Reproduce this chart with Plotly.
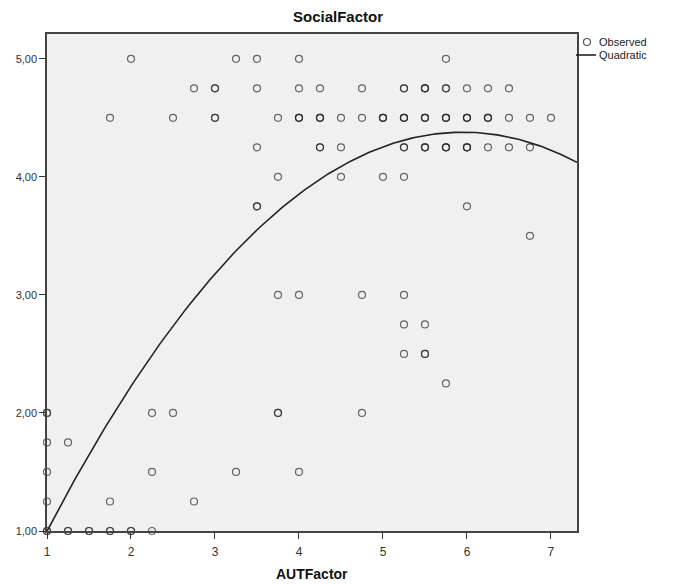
import numpy as np
import plotly.graph_objects as go

# Observed data (AUTFactor, SocialFactor, overlap count)
aut = [2.0, 3.25, 3.5, 4.0, 5.75,
       2.75, 3.0, 3.5, 4.0, 4.25, 4.75, 5.25, 5.5, 5.75, 6.0, 6.25, 6.5,
       1.75, 2.5, 3.0, 3.75, 4.0, 4.25, 4.5, 4.75, 5.0, 5.25, 5.5, 5.75, 6.0, 6.25, 6.5, 6.75, 7.0,
       3.5, 4.25, 4.5, 5.25, 5.5, 5.75, 6.0, 6.25, 6.5, 6.75,
       3.75, 4.5, 5.0, 5.25,
       3.5, 6.0,
       6.75,
       3.75, 4.0, 4.75, 5.25,
       5.25, 5.5,
       5.25, 5.5,
       5.75,
       1.0, 2.25, 2.5, 3.75, 4.75,
       1.0, 1.25,
       1.0, 2.25, 3.25, 4.0,
       1.0, 1.75, 2.75,
       1.0, 1.25, 1.5, 1.75, 2.0, 2.25]
social = [5.0] * 5 + [4.75] * 12 + [4.5] * 17 + [4.25] * 10 + [4.0] * 4 + [3.75] * 2 + [3.5] + \
         [3.0] * 4 + [2.75] * 2 + [2.5] * 2 + [2.25] + [2.0] * 5 + [1.75] * 2 + [1.5] * 4 + \
         [1.25] * 3 + [1.0] * 6
count = [1, 1, 1, 1, 1,
         1, 2, 1, 1, 1, 1, 2, 3, 2, 1, 1, 1,
         1, 1, 2, 1, 3, 3, 1, 1, 3, 3, 3, 3, 3, 3, 1, 1, 1,
         1, 2, 1, 2, 3, 3, 3, 1, 1, 1,
         1, 1, 1, 1,
         2, 1,
         1,
         1, 1, 1, 1,
         1, 1,
         1, 2,
         1,
         2, 1, 1, 2, 1,
         1, 1,
         1, 1, 1, 1,
         1, 1, 1,
         2, 2, 2, 2, 2, 1]

# Quadratic fit coefficients: y = b0 + b1*x + b2*x^2
quad_coef = [-0.506, 1.642, -0.138]

x_range = [1.0, 7.31]
y_range = [1.0, 5.21]
x_ticks = [1, 2, 3, 4, 5, 6, 7]
y_ticks = [1.0, 2.0, 3.0, 4.0, 5.0]
y_tick_text = ["1,00", "2,00", "3,00", "4,00", "5,00"]
legend_names = ["Observed", "Quadratic"]

px_ = np.repeat(aut, count)
py_ = np.repeat(social, count)

xs = np.linspace(x_range[0], x_range[1], 200)
ys = quad_coef[0] + quad_coef[1] * xs + quad_coef[2] * xs ** 2

# plot-area geometry in pixels (for placing legend / titles)
W, H = 676, 584
ML, MR, MT, MB = 47, 99, 34, 53
PW, PH = W - ML - MR, H - MT - MB


def pxx(p):
    return (p - ML) / PW


def pyy(p):
    return (H - MB - p) / PH


fig = go.Figure()
fig.add_trace(go.Scatter(
    x=px_, y=py_, mode="markers", name=legend_names[0], showlegend=False,
    marker=dict(symbol="circle-open", size=7, color="rgba(40,40,40,0.7)",
                line=dict(width=1.2)),
    cliponaxis=False,
))
fig.add_trace(go.Scatter(
    x=xs, y=ys, mode="lines", name=legend_names[1], showlegend=False,
    line=dict(color="#222222", width=1.6),
))

# manual legend (compact, SPSS-style)
fig.add_shape(type="circle", xref="paper", yref="paper",
              xsizemode="pixel", ysizemode="pixel",
              xanchor=pxx(587), yanchor=pyy(42), x0=-3.5, x1=3.5, y0=-3.5, y1=3.5,
              line=dict(color="rgba(40,40,40,0.8)", width=1.2))
fig.add_shape(type="line", xref="paper", yref="paper",
              x0=pxx(576), x1=pxx(596), y0=pyy(55), y1=pyy(55),
              line=dict(color="#222222", width=1.6))
for name, ypix in zip(legend_names, [42, 55]):
    fig.add_annotation(text=name, xref="paper", yref="paper", x=pxx(597), y=pyy(ypix),
                       xanchor="left", yanchor="middle", showarrow=False,
                       font=dict(size=11, color="#222222"))

# x axis title
fig.add_annotation(text="<b>AUTFactor</b>", xref="paper", yref="paper", x=0.5, y=pyy(574),
                   xanchor="center", yanchor="middle", showarrow=False,
                   font=dict(size=14, color="#111111"))

fig.update_layout(
    width=W, height=H,
    margin=dict(l=ML, r=MR, t=MT, b=MB),
    paper_bgcolor="white",
    plot_bgcolor="#f0f0f0",
    font=dict(family="Liberation Sans, Arial, sans-serif", color="#222222"),
    title=dict(text="<b>SocialFactor</b>", x=0.5, xref="container", xanchor="center",
               y=1 - 17 / H, yref="container", yanchor="middle",
               font=dict(size=15, color="#111111")),
    showlegend=False,
    xaxis=dict(range=x_range, tickvals=x_ticks, ticks="outside", ticklen=6,
               tickcolor="#333333", showgrid=False, zeroline=False,
               showline=True, linecolor="#444444", linewidth=1.5, mirror=True,
               ticklabelstandoff=3,
               tickfont=dict(size=12, color="#333333")),
    yaxis=dict(range=y_range, tickvals=y_ticks, ticktext=y_tick_text, ticks="outside",
               ticklen=6, tickcolor="#333333", showgrid=False, zeroline=False,
               showline=True, linecolor="#444444", linewidth=1.5, mirror=True,
               tickfont=dict(size=11, color="#333333")),
)

fig.write_html("out.html")
